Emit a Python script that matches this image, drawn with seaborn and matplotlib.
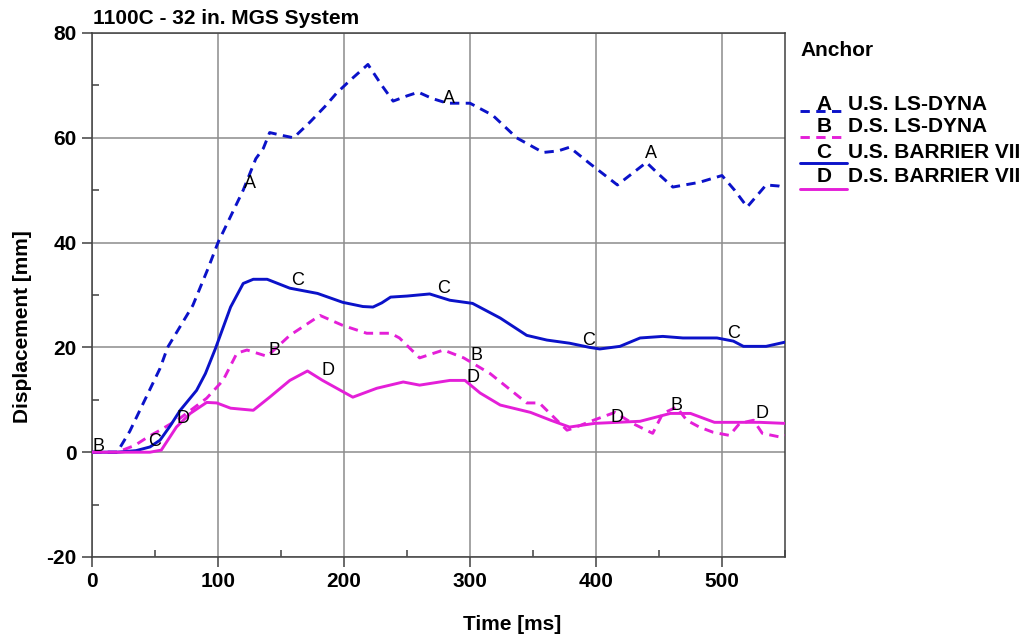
import numpy as np
import pandas as pd
import matplotlib
matplotlib.use("Agg")
import matplotlib.pyplot as plt
import seaborn as sns
from matplotlib.lines import Line2D

# ---- data ----
A_t = [0, 20, 30, 38, 46, 54, 60, 70, 80, 92, 100, 110, 120, 130, 136, 141, 150, 160, 173, 185,
       194, 205, 219, 230, 239, 250, 259, 270, 282, 300, 318, 337, 358, 370, 379, 395, 417, 440,
       450, 461, 482, 500, 510, 520, 535, 545, 550]
A_y = [0, 0, 4, 8, 12, 16, 20, 24, 28, 35, 40, 45, 50, 56, 58, 61, 60.5, 60, 63, 66,
       68.5, 71, 74, 70, 67, 68, 68.7, 67.5, 66.6, 66.6, 64.3, 60, 57.2, 57.5, 58.2, 55.1, 51, 55.3,
       53, 50.6, 51.5, 52.8, 50, 46.8, 51, 50.8, 50.5]

B_t = [0, 20, 34, 45, 54, 70, 91, 104, 115, 123, 139, 157, 181, 199, 218, 237, 244, 260, 279,
       295, 316, 345, 355, 377, 381, 398, 415, 429, 445, 453, 464, 472, 482, 493, 506, 514, 525,
       532, 546, 550]
B_y = [0, 0, 1.3, 3, 4.2, 6.5, 10.3, 13.7, 18.9, 19.5, 18.3, 22.3, 26.1, 24.2, 22.7, 22.7, 21.8, 18, 19.5,
       18, 15, 9.4, 9.4, 4.2, 4.5, 6.1, 7.6, 5.5, 3.6, 7.4, 8.6, 6.1, 4.8, 3.8, 3.2, 5.5, 6.1,
       3.6, 2.9, 3.2]

C_t = [0, 20, 35, 46, 54, 62, 70, 83, 90, 98, 110, 120, 128, 139, 157, 179, 199, 215, 223, 230,
       237, 250, 268, 284, 302, 324, 345, 361, 379, 395, 403, 419, 435, 453, 469, 496, 509, 517,
       535, 550]
C_y = [0, 0, 0.3, 1, 2.3, 5, 8, 11.8, 15, 19.8, 27.7, 32.2, 33, 33, 31.3, 30.3, 28.6, 27.8, 27.7, 28.5,
       29.6, 29.8, 30.2, 29, 28.4, 25.6, 22.3, 21.4, 20.8, 20, 19.7, 20.2, 21.8, 22.1, 21.8, 21.8, 21.2, 20.2,
       20.2, 21]

D_t = [0, 46, 55, 67, 78, 91, 99, 110, 128, 141, 157, 171, 183, 207, 226, 247, 260, 284, 296,
       308, 324, 348, 364, 379, 399, 435, 459, 475, 494, 530, 550]
D_y = [0, 0, 0.4, 4.8, 7.4, 9.5, 9.4, 8.4, 8, 10.5, 13.7, 15.5, 13.7, 10.5, 12.2, 13.4, 12.8, 13.7, 13.7,
       11.3, 9, 7.6, 6.1, 4.8, 5.5, 5.9, 7.4, 7.4, 5.7, 5.7, 5.5]

series_keys = ["A", "B", "C", "D"]
series_labels = ["U.S. LS-DYNA", "D.S. LS-DYNA", "U.S. BARRIER VII", "D.S. BARRIER VII"]

# curve letter annotations (time, displacement)
A_lab = [(125, 51.3), (283, 67.5), (444, 57.0)]
B_lab = [(4.8, 1.1), (145, 19.5), (305, 18.5), (464, 9.0)]
C_lab = [(50, 2.1), (163, 32.8), (279, 31.3), (394, 21.4), (509, 22.7)]
D_lab = [(72, 6.5), (187, 15.6), (302, 14.3), (417, 6.7), (532, 7.3)]

title = "1100C - 32 in. MGS System"
xlabel = "Time [ms]"
ylabel = "Displacement [mm]"
legend_title = "Anchor"

# ---- styling ----
BLUE = "#0b12c9"
MAG = "#e41fd8"
palette = {"A": BLUE, "B": MAG, "C": BLUE, "D": MAG}
DASH = (3.2, 2.2)
dashes = {"A": DASH, "B": DASH, "C": "", "D": ""}

frames = []
for k, t, y in zip(series_keys, [A_t, B_t, C_t, D_t], [A_y, B_y, C_y, D_y]):
    frames.append(pd.DataFrame({"t": t, "d": y, "s": k, "order": np.arange(len(t))}))
df = pd.concat(frames, ignore_index=True)

sns.set_style("ticks")
plt.rcParams["font.family"] = ["Liberation Sans", "DejaVu Sans"]
plt.rcParams["font.weight"] = "bold"
plt.rcParams["axes.unicode_minus"] = False
plt.rcParams["text.color"] = "black"
plt.rcParams["axes.labelcolor"] = "black"
plt.rcParams["xtick.color"] = "black"
plt.rcParams["ytick.color"] = "black"

W, H = 1030, 637
fig = plt.figure(figsize=(W / 100, H / 100), dpi=100)
ax = fig.add_axes([92 / W, 1 - 557 / H, 693 / W, 524 / H])

sns.lineplot(data=df, x="t", y="d", hue="s", style="s", palette=palette, dashes=dashes,
             sort=False, estimator=None, legend=False, lw=2.1, ax=ax, zorder=3)

ax.set_xlim(0, 550)
ax.set_ylim(-20, 80)
ax.set_xticks(range(0, 501, 100))
ax.set_yticks(range(-20, 81, 20))
ax.set_xticks(range(50, 551, 100), minor=True)
ax.set_yticks(range(-10, 80, 20), minor=True)
ax.grid(True, which="major", color="#8c8c8c", lw=1.1, zorder=0)
ax.set_axisbelow(True)
ax.tick_params(which="major", direction="out", length=7, width=1.1, color="#404040",
               labelcolor="black", labelsize=15, pad=4)
ax.tick_params(which="minor", direction="in", length=5, width=1.1, color="#404040")
for lab in ax.get_xticklabels() + ax.get_yticklabels():
    lab.set_fontweight("bold")
for sp in ax.spines.values():
    sp.set_color("#404040")
    sp.set_linewidth(1.1)

ax.set_xlabel(xlabel, fontsize=15, fontweight="bold", color="black")
ax.set_ylabel(ylabel, fontsize=15, fontweight="bold", color="black")
ax.xaxis.set_label_coords((512 - 92) / 693, -(615 - 557) / 524)
ax.yaxis.set_label_coords(-(92 - 32) / 693, (557 - 327) / 524)

for key, labs in zip(series_keys, [A_lab, B_lab, C_lab, D_lab]):
    for (tx, ty) in labs:
        ax.text(tx, ty, key, ha="center", va="center", fontsize=13, fontweight="normal",
                color="black", zorder=5)

fig.text(93 / W, 1 - 18 / H, title, ha="left", va="center", fontsize=15, fontweight="bold",
         color="black")

# ---- legend (drawn in figure pixel coordinates) ----
def fx(px):
    return px / W

def fy(py):
    return 1 - py / H

fig.text(fx(800), fy(51), legend_title, ha="left", va="center", fontsize=15, fontweight="bold",
         color="black")
row_text_y = [104, 127, 152, 177]
row_line_y = [111, 137, 163, 189]
for k, lab, ty, ly in zip(series_keys, series_labels, row_text_y, row_line_y):
    ln = Line2D([fx(800), fx(847)], [fy(ly), fy(ly)], transform=fig.transFigure,
                color=palette[k], lw=2.1)
    if dashes[k]:
        ln.set_dashes(dashes[k])
    fig.add_artist(ln)
    fig.text(fx(824), fy(ty), k, ha="center", va="center", fontsize=15, fontweight="bold",
             color="black")
    fig.text(fx(848), fy(ty), lab, ha="left", va="center", fontsize=15, fontweight="bold",
             color="black")

fig.savefig("out.png", dpi=100, facecolor="white")
